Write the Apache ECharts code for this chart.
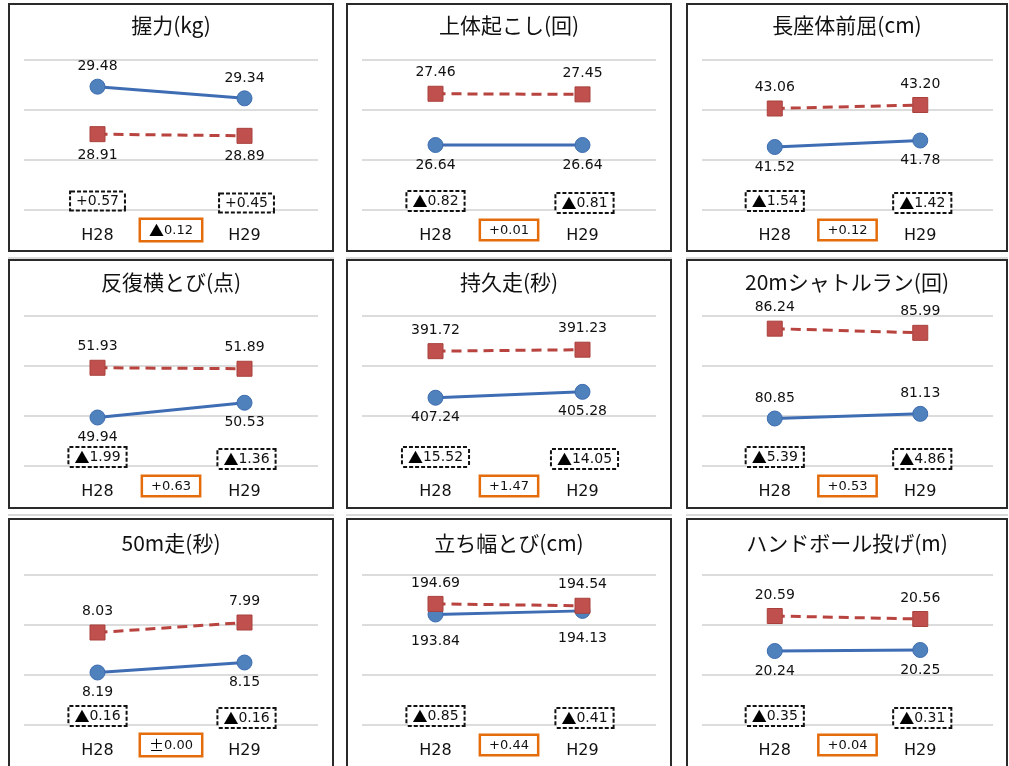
<!DOCTYPE html>
<html>
<head>
<meta charset="utf-8">
<script src="https://cdn.jsdelivr.net/npm/echarts@6/dist/echarts.min.js"></script>
<style>
    body { margin: 0; background: #fff; width: 1009px; height: 766px; overflow: hidden; position: relative; }
    .panel { position: absolute; border: 2px solid #2a2a2a; box-sizing: border-box; background: #fff; }
    .shade { position: absolute; height: 2px; background: #dadada; }
</style>
</head>
<body>
<script>
    // 種目ごとのデータ
    var titles = ['握力(kg)', '上体起こし(回)', '長座体前屈(cm)', '反復横とび(点)', '持久走(秒)',
                  '20mシャトルラン(回)', '50m走(秒)', '立ち幅とび(cm)', 'ハンドボール投げ(m)'];
    var years = ['H28', 'H29'];
    var cityValues = [[29.48, 29.34], [26.64, 26.64], [41.52, 41.78], [49.94, 50.53], [407.24, 405.28],
                      [80.85, 81.13], [8.19, 8.15], [193.84, 194.13], [20.24, 20.25]];
    var nationValues = [[28.91, 28.89], [27.46, 27.45], [43.06, 43.20], [51.93, 51.89], [391.72, 391.23],
                        [86.24, 85.99], [8.03, 7.99], [194.69, 194.54], [20.59, 20.56]];
    var gapLabels = [['+0.57', '+0.45'], ['▲0.82', '▲0.81'], ['▲1.54', '▲1.42'], ['▲1.99', '▲1.36'],
                     ['▲15.52', '▲14.05'], ['▲5.39', '▲4.86'], ['▲0.16', '▲0.16'], ['▲0.85', '▲0.41'],
                     ['▲0.35', '▲0.31']];
    var changeLabels = ['▲0.12', '+0.01', '+0.12', '+0.63', '+1.47', '+0.53', '±0.00', '+0.44', '+0.04'];
    var axisMin = [28, 25.6, 39, 48, 380, 78, 7.8, 185, 19.5];
    var axisMax = [29.8, 28.0, 45, 54, 430, 87, 8.4, 197, 21];
    var axisStep = [0.6, 0.8, 2, 2, 50 / 3, 3, 0.2, 4, 0.5];
    var axisInverse = [false, false, false, false, true, false, true, false, false];
    var cityLabelPos = ['top', 'bottom', 'bottom', 'bottom', 'bottom', 'top', 'bottom', 'bottom', 'bottom'];
    var nationLabelPos = ['bottom', 'top', 'top', 'top', 'top', 'top', 'top', 'top', 'top'];

    // レイアウト
    var colLeft = [8, 346, 686], colWidth = [326, 326, 322];
    var rowTop = [3, 259, 518], rowHeight = [249, 250, 252];
    var titleTop = [5, 6, 8];

    function richText(s) {
        return s.replace(/^([▲±])/, '{s|$1}');
    }

    for (var i = 0; i < 9; i++) {
        var r = Math.floor(i / 3), c = i % 3;
        var div = document.createElement('div');
        div.className = 'panel';
        div.style.left = colLeft[c] + 'px';
        div.style.top = rowTop[r] + 'px';
        div.style.width = colWidth[c] + 'px';
        div.style.height = rowHeight[r] + 'px';
        document.body.appendChild(div);
        if (r < 2) {
            var sh = document.createElement('div');
            sh.className = 'shade';
            sh.style.left = colLeft[c] + 'px';
            sh.style.width = colWidth[c] + 'px';
            sh.style.top = (rowTop[r] + rowHeight[r] + 5) + 'px';
            document.body.appendChild(sh);
        }

        var chart = echarts.init(div);
        var option = {
            backgroundColor: '#fff',
            animation: false,
            title: {
                text: titles[i],
                left: 'center',
                top: titleTop[r],
                textStyle: { fontFamily: 'Noto Sans CJK JP', fontSize: 21, fontWeight: 'normal', color: '#111' }
            },
            grid: { left: 14, right: c == 2 ? 13 : 14, top: 55, height: 150 },
            xAxis: {
                type: 'category',
                data: years,
                boundaryGap: true,
                axisLine: { show: false },
                axisTick: { show: false },
                axisLabel: { fontFamily: 'DejaVu Sans', fontSize: 16, color: '#111', margin: 18 }
            },
            yAxis: {
                type: 'value',
                min: axisMin[i],
                max: axisMax[i],
                interval: axisStep[i],
                inverse: axisInverse[i],
                axisLabel: { show: false },
                axisLine: { show: false },
                axisTick: { show: false },
                splitLine: {
                    showMaxLine: i != 4,
                    lineStyle: { color: '#d0d0d0', width: 1.5 }
                }
            },
            series: [{
                name: '本市',
                type: 'line',
                data: cityValues[i],
                symbol: 'circle',
                symbolSize: 15,
                lineStyle: { color: '#3E6DB4', width: 3 },
                itemStyle: { color: '#4F81BD', borderColor: '#3D6CB0', borderWidth: 1 },
                label: {
                    show: true,
                    position: cityLabelPos[i],
                    distance: i == 7 ? 12 : 5,
                    fontFamily: 'DejaVu Sans', fontSize: 14, color: '#111',
                    formatter: function(p) { return p.value.toFixed(2); }
                },
                z: 2
            }, {
                name: '全国',
                type: 'line',
                data: nationValues[i],
                symbol: 'rect',
                symbolSize: 15,
                lineStyle: { color: '#B8433F', width: 3, type: [10, 6] },
                itemStyle: { color: '#C0504D', borderColor: '#A8403D', borderWidth: 1 },
                label: {
                    show: true,
                    position: nationLabelPos[i],
                    distance: 6,
                    fontFamily: 'DejaVu Sans', fontSize: 14, color: '#111',
                    formatter: function(p) { return p.value.toFixed(2); }
                },
                z: 3
            }]
        };
        chart.setOption(option);

        // 差の枠
        var bottomVal = axisInverse[i] ? axisMax[i] : axisMin[i];
        var p0 = chart.convertToPixel({ gridIndex: 0 }, [0, bottomVal]);
        var p1 = chart.convertToPixel({ gridIndex: 0 }, [1, bottomVal]);
        var rich = { s: { fontFamily: 'Noto Sans CJK JP', fontSize: 15, fill: '#000' } };
        var graphics = [];
        [p0, p1].forEach(function(p, k) {
            graphics.push({
                type: 'text', x: p[0] + k * 2, y: p[1] - 9 + k * 2, z: 100,
                style: {
                    text: richText(gapLabels[i][k]),
                    fill: '#111', fontFamily: 'DejaVu Sans', fontSize: 14,
                    align: 'center', verticalAlign: 'middle',
                    backgroundColor: '#fff', borderColor: '#111', borderWidth: 2, borderDash: [4, 2],
                    padding: [2, 5, 1, 5], rich: rich
                }
            });
        });
        graphics.push({
            type: 'text', x: (p0[0] + p1[0]) / 2, y: p0[1] + 20, z: 100,
            style: {
                text: richText(changeLabels[i]),
                fill: '#111', fontFamily: 'DejaVu Sans', fontSize: 13,
                align: 'center', verticalAlign: 'middle',
                backgroundColor: '#fff', borderColor: '#E46C0A', borderWidth: 2.5,
                padding: [3, 8, 2, 8], rich: rich
            }
        });
        chart.setOption({ graphic: graphics });
    }
</script>
</body>
</html>
